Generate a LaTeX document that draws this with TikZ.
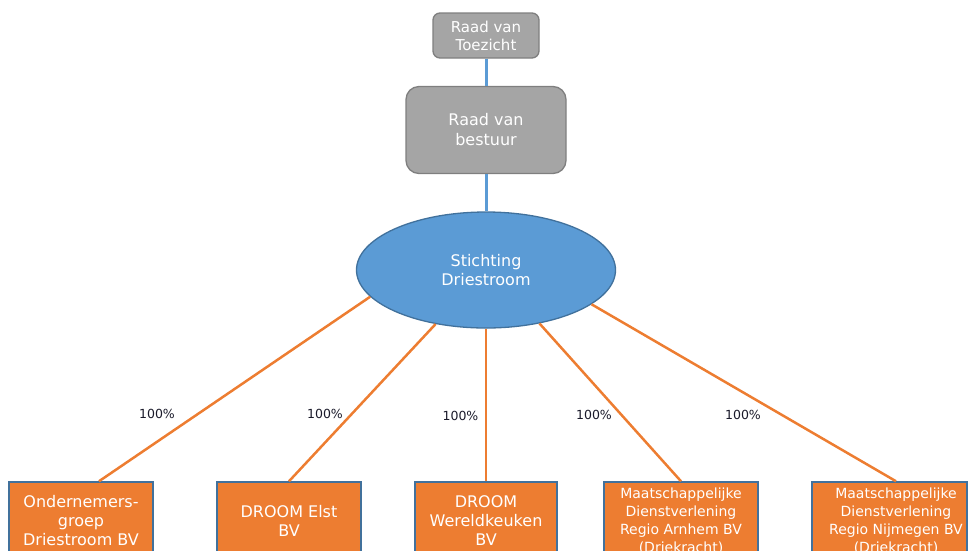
\documentclass[tikz,border=0pt]{standalone}
\usepackage{fontspec}
\setmainfont{DejaVu Sans}
\usetikzlibrary{shapes.geometric}
\definecolor{orng}{HTML}{ED7D31}
\definecolor{bluefill}{HTML}{5B9BD5}
\definecolor{blueline}{HTML}{41719C}
\definecolor{grayfill}{HTML}{A5A5A5}
\definecolor{grayline}{HTML}{7F7F7F}
\definecolor{pcttext}{HTML}{1A1A2A}
\begin{document}
\begin{tikzpicture}[x=1pt,y=-1pt,
  graybox/.style={draw=grayline, fill=grayfill, line width=1.3pt, text=white, align=center, inner sep=0pt},
  orbox/.style={draw=blueline, fill=orng, line width=1.5pt, text=white, align=center, inner sep=0pt, minimum height=78pt},
  bigtext/.style={font=\fontsize{16}{19}\selectfont},
  smalltext/.style={font=\fontsize{14}{18}\selectfont},
  boxtext/.style={text=white, align=center, inner sep=0pt},
  blueconn/.style={draw=bluefill, line width=3pt},
  orconn/.style={draw=orng, line width=2.5pt},
  pct/.style={font=\fontsize{12.5}{15}\selectfont, text=pcttext, inner sep=0pt}]
\path[use as bounding box] (0,0) rectangle (968,550);
\clip (0,0) rectangle (968,550);

\node[graybox, minimum width=106pt, minimum height=45pt, rounded corners=7pt,
      font=\fontsize{15}{18}\selectfont] (rvt) at (486,35.5) {Raad van\\Toezicht};
\node[graybox, minimum width=160pt, minimum height=87pt, rounded corners=13pt,
      font=\fontsize{16}{20}\selectfont] (rvb) at (486,130) {Raad van\\bestuur};
\node[ellipse, draw=blueline, fill=bluefill, line width=1.3pt, minimum width=259pt,
      minimum height=116pt, inner sep=0pt, text=white, align=center,
      font=\fontsize{16}{19}\selectfont] (sd) at (486,270) {Stichting\\Driestroom};

\node[orbox, bigtext, minimum width=144pt] (b1) at (81,521) {Ondernemers-\\groep\\Driestroom BV};
\node[orbox, bigtext, minimum width=144pt] (b2) at (289,521) {DROOM Elst\\BV};
\node[orbox, bigtext, minimum width=142pt] (b3) at (486,521) {DROOM\\Wereldkeuken\\BV};
\node[orbox, smalltext, minimum width=154pt] (b4) at (681,521) {Maatschappelijke\\Dienstverlening\\Regio Arnhem BV\\(Driekracht)};
\node[orbox, minimum width=155pt] (b5) at (889.5,521) {};
\node[boxtext, smalltext] (b5t) at (896,521) {Maatschappelijke\\Dienstverlening\\Regio Nijmegen BV\\(Driekracht)};

\draw[blueconn] (rvt) -- (rvb);
\draw[blueconn] (rvb) -- (sd);

\draw[orconn] (sd.193.4) -- ([xshift=18pt]b1.north);
\draw[orconn] (sd.227.6) -- (b2.north);
\draw[orconn] (sd.south) -- (b3.north);
\draw[orconn] (sd.315.3) -- (b4.north);
\draw[orconn] (sd.342) -- ([xshift=6.5pt]b5.north);

\node[pct] (l1) at (157,414) {100\%};
\node[pct] (l2) at (325,414) {100\%};
\node[pct] (l3) at (460.5,416) {100\%};
\node[pct] (l4) at (594,415) {100\%};
\node[pct] (l5) at (743,415) {100\%};
\end{tikzpicture}
\end{document}
